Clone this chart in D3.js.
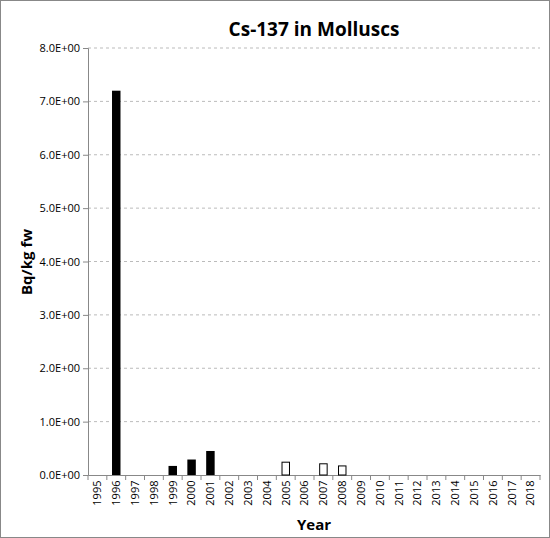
<!DOCTYPE html>
<html><head><meta charset="utf-8">
<script src="https://cdn.jsdelivr.net/npm/d3@7"></script>
<style>body{margin:0;background:#fff}text{font-family:"Open Sans",sans-serif}</style>
</head><body><svg id="c" width="550" height="538"></svg>
<script>
const years=d3.range(1995,2019).map(String);
const filledYears=["1996","1999","2000","2001"];
const filledValues=[7.2,0.17,0.29,0.45];
const openYears=["2005","2007","2008"];
const openValues=[0.24,0.21,0.17];
const yTicks=[0,1,2,3,4,5,6,7,8];

const svg=d3.select("#c");
svg.append("rect").attr("x",0.5).attr("y",0.5).attr("width",549).attr("height",537).attr("fill","#fff").attr("stroke","#888");
const L=88,R=540,T=48,B=475;
const x=d3.scaleBand().domain(years).range([L,R]);
const y=d3.scaleLinear().domain([0,8]).range([B,T]);
svg.append("g").selectAll("line").data(yTicks.slice(1)).join("line")
 .attr("x1",L).attr("x2",R).attr("y1",d=>y(d)).attr("y2",d=>y(d))
 .attr("stroke","#bbb").attr("stroke-dasharray","3,3");
const ya=svg.append("g").attr("transform",`translate(${L},0)`).call(d3.axisLeft(y).tickValues(yTicks).tickFormat(d=>d.toFixed(1)+"E+00").tickSize(5));
ya.selectAll("text").attr("font-size",11).attr("fill","#000");
ya.selectAll("line,path").attr("stroke","#888");
const xa=svg.append("g").attr("transform",`translate(0,${B})`).call(d3.axisBottom(x).tickSize(0));
xa.selectAll("text").attr("font-size",11).attr("fill","#000").attr("transform","rotate(-90)").attr("text-anchor","end").attr("dx","-0.5em").attr("dy","0.35em").attr("x",0).attr("y",0);
xa.select("path").attr("stroke","#888");
xa.append("g").selectAll("line").data(years.concat(["end"])).join("line")
 .attr("x1",(d,i)=>L+i*x.step()).attr("x2",(d,i)=>L+i*x.step()).attr("y1",0).attr("y2",5).attr("stroke","#888");
const bw=x.bandwidth()*0.45;
svg.append("g").selectAll("rect").data(filledYears.map((d,i)=>[d,filledValues[i]])).join("rect")
 .attr("x",d=>x(d[0])+(x.bandwidth()-bw)/2).attr("width",bw).attr("y",d=>y(d[1])).attr("height",d=>B-y(d[1])).attr("fill","#000");
svg.append("g").selectAll("rect").data(openYears.map((d,i)=>[d,openValues[i]])).join("rect")
 .attr("x",d=>x(d[0])+(x.bandwidth()-bw)/2+0.5).attr("width",bw-1).attr("y",d=>y(d[1])).attr("height",d=>B-y(d[1])).attr("fill","#fff").attr("stroke","#000");
svg.append("text").attr("x",314).attr("y",36).attr("text-anchor","middle").attr("font-size",19).attr("font-weight","bold").text("Cs-137 in Molluscs");
svg.append("text").attr("x",314).attr("y",530).attr("text-anchor","middle").attr("font-size",15).attr("font-weight","bold").text("Year");
svg.append("text").attr("transform","translate(32,262) rotate(-90)").attr("text-anchor","middle").attr("font-size",15).attr("font-weight","bold").text("Bq/kg fw");
</script></body></html>
